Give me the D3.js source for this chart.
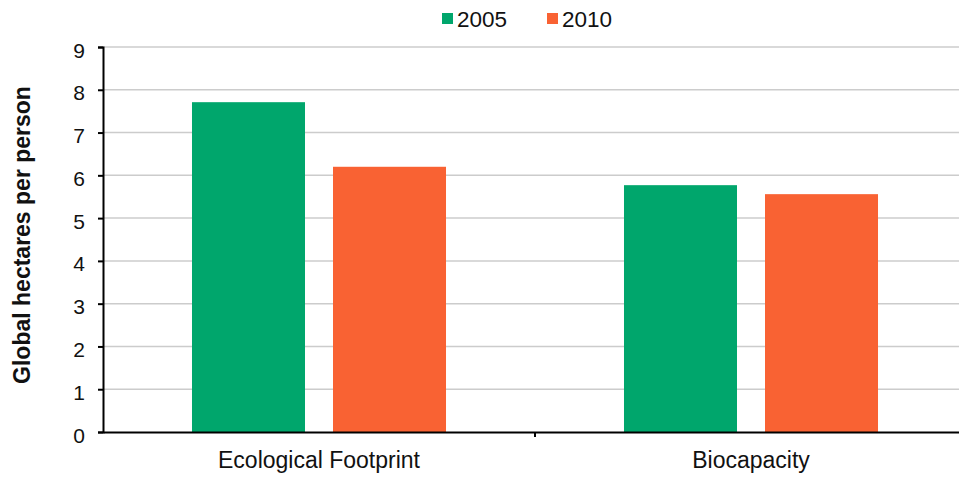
<!DOCTYPE html>
<html><head><meta charset="utf-8">
<script src="https://cdn.jsdelivr.net/npm/d3@7"></script>
<style>body{margin:0;background:#fff;}svg{display:block;font-family:"Liberation Sans",Arial,Helvetica,sans-serif;}</style>
</head><body>
<svg id="c" width="959" height="477"></svg>
<script>
const categories = ["Ecological Footprint", "Biocapacity"];
const seriesNames = ["2005", "2010"];
const values2005 = [7.71, 5.77];
const values2010 = [6.20, 5.56];
const yTicks = [0,1,2,3,4,5,6,7,8,9];
const colors = ["#00a66c", "#f96233"];

(function(){
const svg = d3.select("#c");
const mLeft = 103, mRight = 967, mTop = 47, mBottom = 432;
const x = d3.scaleBand().domain(categories).range([mLeft, mRight]);
const y = d3.scaleLinear().domain([0, 9]).range([mBottom, mTop]);
const bw = x.bandwidth();
const inner = d3.scaleBand().domain(seriesNames).range([bw * 0.206, bw * 0.794]).paddingInner(0.1986).paddingOuter(0);

// gridlines
svg.append("g").selectAll("line").data(yTicks.filter(d => d > 0)).join("line")
  .attr("x1", mLeft).attr("x2", mRight).attr("y1", d => y(d)).attr("y2", d => y(d))
  .attr("stroke", "#cccccc").attr("stroke-width", 1.5);

// bars
const data = categories.map((c, i) => ({c, vals: [values2005[i], values2010[i]]}));
svg.append("g").selectAll("g").data(data).join("g")
  .attr("transform", d => `translate(${x(d.c)},0)`)
  .selectAll("rect").data(d => d.vals.map((v, j) => ({s: seriesNames[j], v, j}))).join("rect")
  .attr("x", d => inner(d.s)).attr("width", inner.bandwidth())
  .attr("y", d => y(d.v)).attr("height", d => y(0) - y(d.v))
  .attr("fill", d => colors[d.j]);

// y axis
const ya = svg.append("g").attr("transform", `translate(${mLeft},0)`)
  .call(d3.axisLeft(y).tickValues(yTicks).tickSize(5).tickPadding(13));
ya.attr("font-family", null).attr("font-size", null);
ya.select(".domain").attr("stroke", "#000").attr("stroke-width", 2);
ya.selectAll(".tick line").attr("stroke", "#000").attr("stroke-width", 2);
ya.selectAll(".tick text").attr("font-size", 21).attr("fill", "#111").attr("dy", "0.48em");

// x axis
const xa = svg.append("g").attr("transform", `translate(0,${mBottom})`)
  .call(d3.axisBottom(x).tickSize(0).tickSizeOuter(0));
xa.attr("font-family", null).attr("font-size", null);
xa.select(".domain").attr("stroke", "#000").attr("stroke-width", 2);
xa.selectAll(".tick text").attr("font-size", 23).attr("fill", "#111").attr("y", 36).attr("dy", 0);
svg.append("g").selectAll("line").data([x(categories[1])]).join("line")
  .attr("x1", d => d).attr("x2", d => d).attr("y1", mBottom).attr("y2", mBottom + 5)
  .attr("stroke", "#000").attr("stroke-width", 2);

// y label
svg.append("text").attr("transform", "translate(30,235) rotate(-90)")
  .attr("text-anchor", "middle").attr("font-size", 23).attr("font-weight", "bold").attr("fill", "#111")
  .text("Global hectares per person");

// legend
const legX = [442, 547];
const lg = svg.append("g").selectAll("g").data(seriesNames).join("g")
  .attr("transform", (d, i) => `translate(${legX[i]},13)`);
lg.append("rect").attr("width", 11).attr("height", 11).attr("fill", (d, i) => colors[i]);
lg.append("text").attr("x", 15).attr("y", 14).attr("font-size", 22.5).attr("fill", "#111").text(d => d);
})();
</script>
</body></html>
